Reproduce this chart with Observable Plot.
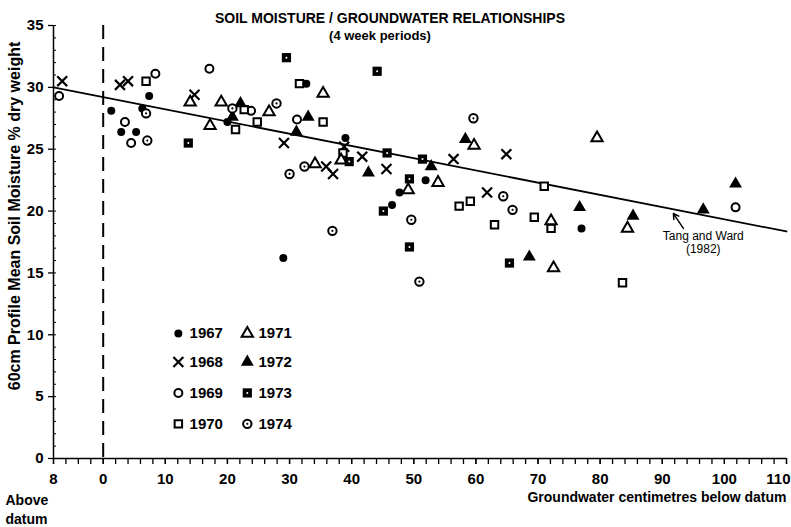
<!DOCTYPE html>
<html><head><meta charset="utf-8">
<script src="https://cdn.jsdelivr.net/npm/d3@7"></script>
<script src="https://cdn.jsdelivr.net/npm/@observablehq/plot@0.6"></script>
<style>
body{margin:0;background:#fff;}
#chart{width:791px;height:527px;}
</style></head><body><div id="chart"></div>
<script>
// ---- data: [groundwater cm below datum, soil moisture % dry weight]
const years = ["1967","1968","1969","1970","1971","1972","1973","1974"];
const p1967 = [[1.3,28.1],[2.9,26.4],[5.3,26.4],[6.3,28.3],[7.4,29.3],[20.0,27.2],[32.7,30.3],[39.0,25.9],[51.9,22.5],[47.7,21.5],[46.5,20.5],[29.0,16.2],[77.0,18.6]];
const p1968 = [[-6.6,30.5],[2.7,30.2],[4.0,30.5],[14.7,29.4],[29.1,25.5],[38.8,25.2],[41.7,24.4],[35.9,23.6],[37.0,23.0],[45.6,23.4],[56.4,24.2],[64.9,24.6],[61.8,21.5]];
const p1969 = [[-7.1,29.3],[3.5,27.2],[4.5,25.5],[8.4,31.1],[17.1,31.5],[23.8,28.1],[31.2,27.4],[101.8,20.3]];
const p1970 = [[6.9,30.5],[22.7,28.2],[24.8,27.2],[21.3,26.6],[31.6,30.3],[35.4,27.2],[38.6,24.7],[57.3,20.4],[59.1,20.8],[63.0,18.9],[69.4,19.5],[72.1,18.6],[71.0,22.0],[83.6,14.2]];
const p1971 = [[14.0,28.8],[19.0,28.8],[17.2,26.9],[26.7,28.0],[35.4,29.5],[34.1,23.8],[38.3,24.1],[49.1,21.7],[53.9,22.3],[59.7,25.3],[72.1,19.2],[72.5,15.4],[79.5,25.9],[84.4,18.6]];
const p1972 = [[22.1,28.7],[20.8,27.6],[33.0,27.6],[31.1,26.4],[42.7,23.1],[52.8,23.6],[58.3,25.8],[76.7,20.3],[68.6,16.3],[85.3,19.6],[96.6,20.1],[101.8,22.2]];
const p1973 = [[13.7,25.5],[29.5,32.4],[44.1,31.3],[39.6,24.0],[45.7,24.7],[51.4,24.2],[49.3,22.6],[45.1,20.0],[49.3,17.1],[65.4,15.8]];
const p1974 = [[6.9,27.9],[7.1,25.7],[20.8,28.3],[27.9,28.7],[32.4,23.6],[30.0,23.0],[36.9,18.4],[49.6,19.3],[50.9,14.3],[59.6,27.5],[64.4,21.2],[65.9,20.1]];
// Tang and Ward (1982) line
const trendGW = [-8, 110];
const trendSM = [30.0, 18.35];
// tick labels
const xTicks = [-8,0,10,20,30,40,50,60,70,80,90,100,110];
const yTicks = [0,5,10,15,20,25,30,35];
// annotation
const noteText = ["Tang and Ward\n(1982)"];
const noteAt = [96.6, 17.45];
const arrowFrom = [93.4, 18.6];
const arrowTo = [91.8, 19.8];

const font = "'Liberation Sans','Arimo',sans-serif";
const seriesPairs = {"1967":p1967,"1968":p1968,"1969":p1969,"1970":p1970,"1971":p1971,"1972":p1972,"1973":p1973,"1974":p1974};
const rows = y => seriesPairs[y].map(([gw, sm]) => ({gw, sm, year: y}));

// legend layout (2 columns x 4 rows), positions in data units
const legRowY = [10.1, 7.8, 5.3, 2.8];
const legend = years.map((year, i) => ({year, gw: i < 4 ? 12.1 : 23.2, tx: i < 4 ? 13.9 : 25.0, sm: legRowY[i % 4]}));

function yearMarks(data, year) {
  const d = data.filter(r => r.year === year);
  const o = {x: "gw", y: "sm"};
  switch (year) {
    case "1967": return [Plot.dot(d, {...o, symbol: "circle", r: 4, fill: "black"})];
    case "1968": return [Plot.dot(d, {...o, symbol: "times", r: 4.6, stroke: "black", strokeWidth: 2.2})];
    case "1969": return [Plot.dot(d, {...o, symbol: "circle", r: 4, fill: "white", stroke: "black", strokeWidth: 2})];
    case "1970": return [Plot.dot(d, {...o, symbol: "square", r: 4.2, fill: "white", stroke: "black", strokeWidth: 2})];
    case "1971": return [Plot.dot(d, {...o, symbol: "triangle", r: 4.2, fill: "white", stroke: "black", strokeWidth: 2})];
    case "1972": return [Plot.dot(d, {...o, symbol: "triangle", r: 4.8, fill: "black"})];
    case "1973": return [Plot.dot(d, {...o, symbol: "square", r: 5.2, fill: "black"}), Plot.dot(d, {...o, r: 1, fill: "white"})];
    case "1974": return [Plot.dot(d, {...o, symbol: "circle", r: 4.2, fill: "white", stroke: "black", strokeWidth: 2}), Plot.dot(d, {...o, r: 1.1, fill: "black"})];
  }
}

const all = years.flatMap(rows);
const trend = trendGW.map((gw, i) => ({gw, sm: trendSM[i]}));

const plot = Plot.plot({
  width: 791, height: 527,
  marginTop: 25, marginBottom: 69, marginLeft: 53, marginRight: 5,
  x: {domain: [-8, 110]},
  y: {domain: [0, 35]},
  style: {fontFamily: font, fontSize: "14px", fontWeight: "bold", color: "black", background: "white"},
  marks: [
    Plot.ruleX([0], {strokeDasharray: "14,8", strokeWidth: 2, stroke: "black"}),
    Plot.ruleY([0], {strokeWidth: 1.5}),
    Plot.ruleX([-8], {strokeWidth: 1.5}),
    Plot.axisX({ticks: d3.range(-8, 111, 2), tickSize: 6, tickFormat: () => "", label: null, strokeWidth: 1.3}),
    Plot.axisX({ticks: xTicks, tickSize: 6, tickPadding: 9, tickFormat: d => String(Math.abs(d)), label: null, fontSize: 15, strokeWidth: 1.3}),
    Plot.axisY({ticks: d3.range(0, 36, 1), tickSize: -3, tickFormat: () => "", label: null}),
    Plot.axisY({ticks: yTicks, tickSize: 5, tickPadding: 5, label: null, fontSize: 15, strokeWidth: 1.3}),
    Plot.line(trend, {x: "gw", y: "sm", strokeWidth: 1.8}),
    ...years.flatMap(y => yearMarks(all, y)),
    ...years.flatMap(y => yearMarks(legend, y)),
    Plot.text(legend, {x: "tx", y: "sm", text: "year", textAnchor: "start", fontSize: 15}),
    Plot.text(noteText, {x: () => noteAt[0], y: () => noteAt[1], fontSize: 12, fontWeight: "normal", lineHeight: 1.1}),
    Plot.arrow([0], {x1: () => arrowFrom[0], y1: () => arrowFrom[1], x2: () => arrowTo[0], y2: () => arrowTo[1], strokeWidth: 1.5, headLength: 7}),
    Plot.text(["SOIL MOISTURE / GROUNDWATER RELATIONSHIPS"], {frameAnchor: "top", dx: -30, dy: -12, fontSize: 14}),
    Plot.text(["(4 week periods)"], {frameAnchor: "top", dx: -40, dy: 5, fontSize: 13}),
    Plot.text(["60cm Profile Mean Soil Moisture % dry weight"], {frameAnchor: "left", textAnchor: "middle", rotate: -90, dx: -39, dy: -26, fontSize: 16}),
    Plot.text(["Above\ndatum"], {frameAnchor: "bottom-left", textAnchor: "start", lineAnchor: "top", dx: -48, dy: 34, fontSize: 14, lineHeight: 1.3}),
    Plot.text(["Groundwater centimetres below datum"], {frameAnchor: "bottom-right", textAnchor: "end", lineAnchor: "top", dy: 34, fontSize: 14})
  ]
});
// keep the last x tick label inside the picture, as in the reference
d3.select(plot).selectAll("text").filter(function () { return this.textContent === "110"; })
  .attr("text-anchor", "end").attr("dx", 4);
document.getElementById("chart").appendChild(plot);
</script></body></html>
